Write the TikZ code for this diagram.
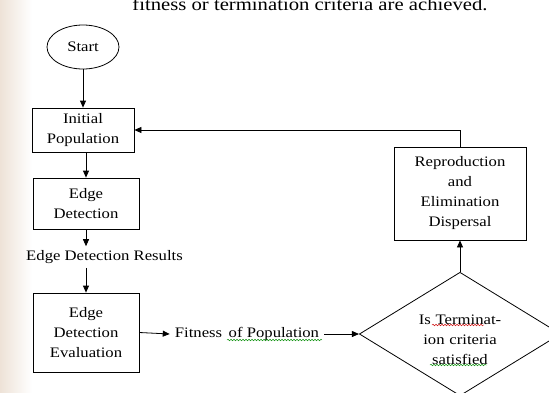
\documentclass[tikz,border=0pt]{standalone}
\usepackage{fontspec}
\setmainfont{Liberation Serif}[FakeStretch=1.15]
\usetikzlibrary{shapes.geometric,arrows.meta,decorations.pathmorphing}
\begin{document}
\begin{tikzpicture}[x=1pt,y=-1pt,
  txt/.style={font=\fontsize{14.5}{20}\selectfont, align=center, inner sep=1pt},
  box/.style={txt, draw, line width=0.8pt, inner sep=0pt},
  conn/.style={line width=0.8pt, -{Triangle[length=7pt,width=6pt]}},
  squig/.style={decorate, decoration={snake, amplitude=0.8pt, segment length=3pt}, line width=0.45pt}
]
\useasboundingbox (0,0) rectangle (549,392);
\clip (0,0) rectangle (549,392);
\fill[white] (0,0) rectangle (549,392);
\shade[left color=black!12!brown!20, right color=white] (0,0) rectangle (32,392);

\node[font=\fontsize{18}{22}\selectfont, anchor=base, inner sep=0pt] (top) at (310,10) {fitness or termination criteria are achieved.};

\node[txt, draw, line width=0.8pt, ellipse, minimum width=72pt, minimum height=44pt, inner sep=0pt] (start) at (83,47) {Start};
\node[box, minimum width=102pt, minimum height=44pt] (init) at (83,130) {Initial\\Population};
\node[box, minimum width=106pt, minimum height=51pt] (edge) at (86,203.5) {Edge\\Detection};
\node[txt, inner ysep=4pt] (res) at (104.5,257) {Edge Detection Results};
\node[box, minimum width=106pt, minimum height=79pt] (eval) at (86,332.5) {Edge\\Detection\\Evaluation};
\node[txt, inner xsep=5pt] (fit) at (247,334) {Fitness\,\ of Population};
\node[txt, draw, line width=0.8pt, diamond, aspect=1.63, minimum width=196pt, minimum height=120pt, inner sep=0pt, text width=100pt] (dia) at (460,334) {\rule{0pt}{22pt}Is Terminat-\\ion criteria\\satisfied};
\node[box, minimum width=132pt, minimum height=93pt] (repro) at (460,193.5) {Reproduction\\and\\Elimination\\Dispersal};

\draw[conn] (start.south) -- (init.north);
\draw[conn] (edge.north |- init.south) -- (edge.north);
\draw[conn] (edge.south) -- (res.north -| edge.south);
\draw[conn] (res.south -| edge.south) -- (eval.north);
\draw[conn] (eval.east) -- (fit.west);
\draw[conn] (fit.east) -- (dia.west);
\draw[conn] (dia.north) -- (repro.south);
\draw[conn] (repro.north) |- (init.east);

\draw[squig, green!55!black] (227,340) -- (322,340);
\draw[squig, red!80!black] (432,325) -- (484,325);
\draw[squig, green!55!black] (430,365) -- (487,365);
\end{tikzpicture}
\end{document}
